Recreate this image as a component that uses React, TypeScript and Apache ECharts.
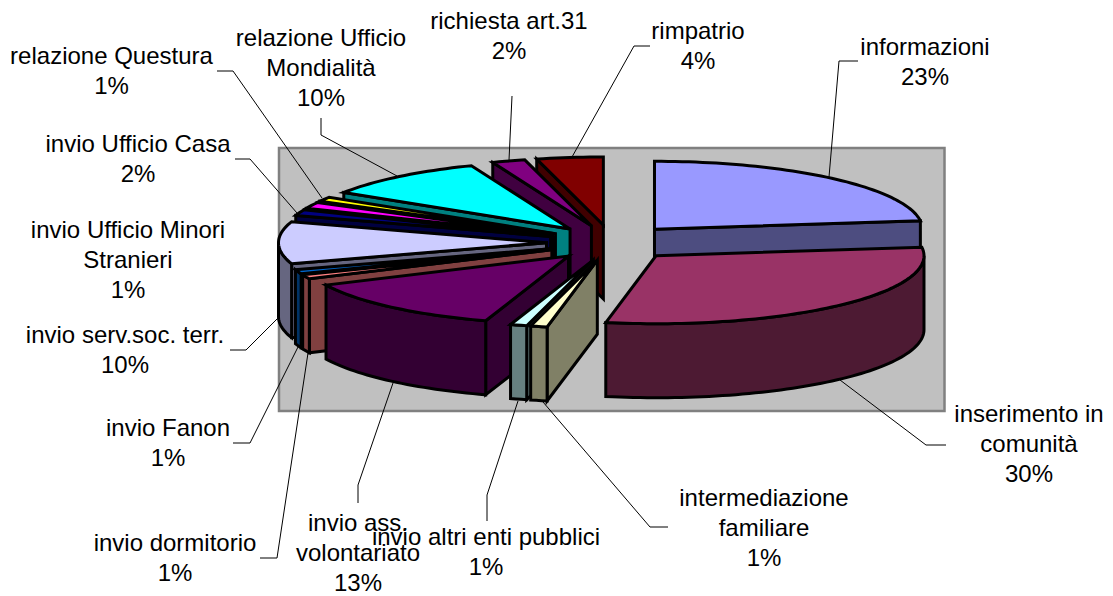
import React, { useEffect, useRef } from "react";
import * as echarts from "echarts";

const categories = [
  "informazioni", "inserimento in\ncomunità", "intermediazione\nfamiliare", "invio altri enti pubblici",
  "invio ass.\nvolontariato", "invio dormitorio", "invio Fanon", "invio serv.soc. terr.",
  "invio Ufficio Minori\nStranieri", "invio Ufficio Casa", "relazione Questura",
  "relazione Ufficio\nMondialità", "richiesta art.31", "rimpatrio",
];
const values = [23, 30, 1, 1, 13, 1, 1, 10, 1.4, 1.5, 1.1, 10, 2, 4];
const colors = [
  "#9999FF", "#993366", "#FFFFCC", "#CCFFFF", "#660066", "#FF8080", "#0066CC",
  "#CCCCFF", "#000080", "#FF00FF", "#FFFF00", "#00FFFF", "#800080", "#800000",
];
// label centres (x, y of the first line)
const labelX = [925, 1029, 764, 486, 358, 175, 168, 125, 128, 138, 111.5, 321, 509, 698];
const labelY = [47, 414, 498, 537, 523, 543, 428, 335, 230, 144, 56, 38, 21, 31];
const leaders: number[][][] = [
  [[858, 61], [839, 61], [829, 177]],
  [[946, 445], [926, 445], [840, 380]],
  [[668, 527], [650, 527], [543, 402]],
  [[487, 521], [487, 495], [518, 401]],
  [[358, 503], [358, 485], [393, 383]],
  [[260, 558], [277, 558], [308, 353]],
  [[233, 443], [250, 443], [298, 347]],
  [[230, 350], [246, 350], [279, 317]],
  [[235, 159], [250, 159], [297, 213]],
  [[217, 71], [233, 71], [322, 198]],
  [[321, 118], [321, 135], [397, 176]],
  [[512, 96], [509, 160]],
  [[650, 46], [634, 46], [572, 157]],
];

const CX = 611.5, CY = 242.7, RX = 268, RY = 68, EXPLODE = 65, EXPLODE_K = 0.275, DEPTH = 74;
const rad = (d: number) => (d * Math.PI) / 180;
const total = values.reduce((a, b) => a + b, 0);

const darken = (hex: string) => {
  const n = parseInt(hex.slice(1), 16);
  const h = (v: number) => Math.round(v / 2).toString(16).padStart(2, "0");
  return "#" + h((n >> 16) & 255) + h((n >> 8) & 255) + h(n & 255);
};

let run = 0;
const rows = values.map((v, i) => {
  const s = run;
  run += v;
  return [(s / total) * 360, (run / total) * 360, i];
});
// painter's order: back slices first
rows.sort((p, q) => Math.cos(rad((q[0] + q[1]) / 2)) - Math.cos(rad((p[0] + p[1]) / 2)));

const renderItem = (_: any, api: any) => {
  const a = api.value(0), b = api.value(1), idx = api.value(2);
  const mid = rad((a + b) / 2);
  const centre = api.coord([
    CX + EXPLODE * Math.sin(mid),
    CY - EXPLODE * EXPLODE_K * Math.cos(mid),
  ]);
  const ax = centre[0], ay = centre[1];
  const pt = (deg: number, dz = 0) => [ax + RX * Math.sin(rad(deg)), ay - RY * Math.cos(rad(deg)) + dz];
  const arc = (from: number, to: number, dz = 0) => {
    const n = Math.max(2, Math.ceil((to - from) / 1.5));
    const out: number[][] = [];
    for (let i = 0; i <= n; i++) out.push(pt(from + ((to - from) * i) / n, dz));
    return out;
  };
  const top = colors[idx], side = darken(top);
  const style = (fill: string) => ({ fill, stroke: "#000", lineWidth: 3, lineJoin: "miter" as const, miterLimit: 4 });
  const children: any[] = [];
  const poly = (points: number[][], fill: string) =>
    children.push({ type: "polygon", shape: { points }, style: style(fill) });
  if (Math.sin(rad(a)) < -1e-6) poly([[ax, ay], pt(a), pt(a, DEPTH), [ax, ay + DEPTH]], side);
  if (Math.sin(rad(b)) > 1e-6) poly([[ax, ay], pt(b), pt(b, DEPTH), [ax, ay + DEPTH]], side);
  const f = Math.max(a, 90), t = Math.min(b, 270);
  if (t > f) poly([...arc(f, t), ...arc(f, t, DEPTH).reverse()], side);
  poly([[ax, ay], ...arc(a, b)], top);
  return { type: "group", children };
};

export default function App() {
  const ref = useRef<HTMLDivElement>(null);
  useEffect(() => {
    document.body.style.margin = "0";
    const chart = echarts.init(ref.current!, undefined, { renderer: "svg" });
    const font = '24px "Liberation Sans", Arial, sans-serif';
    const labels = categories.map((c, i) => ({
      type: "text",
      z: 20,
      x: labelX[i],
      y: labelY[i] - 15,
      silent: true,
      style: {
        text: `${c}\n${Math.round(values[i])}%`,
        font,
        fill: "#000",
        textAlign: "center",
        textVerticalAlign: "top",
        lineHeight: 29.7,
      },
    }));
    const lines = leaders.map((pts) => ({
      type: "polyline",
      z: 10,
      silent: true,
      shape: { points: pts },
      style: { stroke: "#000", lineWidth: 1, fill: "none" },
    }));
    chart.setOption({
      animation: false,
      backgroundColor: "#fff",
      grid: { left: 0, right: 0, top: 0, bottom: 0 },
      xAxis: { type: "value", min: 0, max: 1113, show: false },
      yAxis: { type: "value", min: 0, max: 596, inverse: true, show: false },
      graphic: { elements: [
        { type: "rect", z: -10, silent: true, shape: { x: 279, y: 148, width: 665.5, height: 263 },
          style: { fill: "#C0C0C0", stroke: "#808080", lineWidth: 2.5 } },
      ] },
      series: [
        {
          type: "custom",
          coordinateSystem: "cartesian2d",
          renderItem,
          data: rows,
          z: 5,
          silent: true,
        },
        {
          type: "custom",
          coordinateSystem: "none",
          z: 10,
          silent: true,
          data: [0],
          renderItem: () => ({ type: "group", children: [...lines, ...labels] }),
        },
      ],
    });
    return () => chart.dispose();
  }, []);
  return <div ref={ref} style={{ width: 1113, height: 596 }} />;
}
